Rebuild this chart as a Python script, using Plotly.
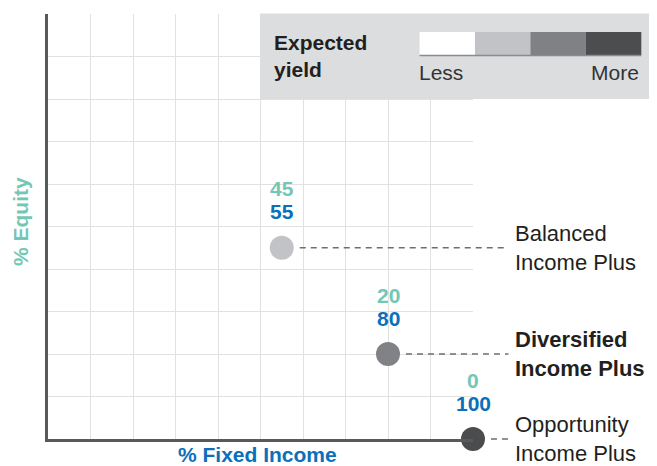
import plotly.graph_objects as go

# Portfolio data
names = ["Balanced<br>Income Plus", "<b>Diversified<br>Income Plus</b>", "Opportunity<br>Income Plus"]
fixed_income = [55, 80, 100]
equity = [45, 20, 0]
yield_colors = ["#c2c3c6", "#818285", "#4b4c4e"]

legend_colors = ["#ffffff", "#c2c3c6", "#808184", "#4c4d4f"]
legend_ends = ["Less", "More"]

TEAL = "#72c8b4"
BLUE = "#0b70b9"
FONT = "Liberation Sans, Arial, sans-serif"

# page body has an 8px margin, so the figure is drawn 8px smaller and coords shifted
OFF = 8
W, H = 657 - OFF, 466 - OFF
L, R, T, B = 48 - OFF, 473.5 - OFF, 14 - OFF, 439 - OFF


def px_x(p):
    return (p - OFF - L) / (R - L)


def px_y(p):
    return (B - (p - OFF)) / (B - T)


fig = go.Figure()

fig.add_trace(go.Scatter(
    x=fixed_income,
    y=equity,
    mode="markers",
    marker=dict(size=24, color=yield_colors, line=dict(width=0)),
    cliponaxis=False,
    hoverinfo="skip",
    showlegend=False,
))

shapes = []
annotations = []

# legend panel
shapes.append(dict(type="rect", xref="paper", yref="paper",
                   x0=px_x(260.5), x1=px_x(660), y0=px_y(99), y1=px_y(13.5),
                   fillcolor="#dcdddf", line=dict(width=0), layer="above"))
seg_w = (642 - 420) / len(legend_colors)
for i, c in enumerate(legend_colors):
    shapes.append(dict(type="rect", xref="paper", yref="paper",
                       x0=px_x(420 + i * seg_w), x1=px_x(420 + (i + 1) * seg_w),
                       y0=px_y(55), y1=px_y(32),
                       fillcolor=c, line=dict(width=0), layer="above"))
shapes.append(dict(type="line", xref="paper", yref="paper",
                   x0=px_x(420), x1=px_x(642), y0=px_y(55.5), y1=px_y(55.5),
                   line=dict(color="#8a8b8e", width=1.5), layer="above"))

annotations.append(dict(xref="paper", yref="paper", x=px_x(272), y=px_y(56),
                        text="<b>Expected<br>yield</b>", showarrow=False,
                        xanchor="left", yanchor="middle", align="left",
                        font=dict(size=21, color="#231f20", family=FONT)))
annotations.append(dict(xref="paper", yref="paper", x=px_x(417), y=px_y(72),
                        text=legend_ends[0], showarrow=False, xanchor="left", yanchor="middle",
                        font=dict(size=21, color="#333333", family=FONT)))
annotations.append(dict(xref="paper", yref="paper", x=px_x(642), y=px_y(72),
                        text=legend_ends[1], showarrow=False, xanchor="right", yanchor="middle",
                        font=dict(size=21, color="#333333", family=FONT)))

# value labels, leader lines and names
for fi, eq, name in zip(fixed_income, equity, names):
    annotations.append(dict(x=fi, y=eq, xref="x", yref="y", text=f"<b>{eq}</b>",
                            showarrow=False, yshift=59, yanchor="middle",
                            font=dict(size=21, color=TEAL, family=FONT)))
    annotations.append(dict(x=fi, y=eq, xref="x", yref="y", text=f"<b>{fi}</b>",
                            showarrow=False, yshift=36, yanchor="middle",
                            font=dict(size=21, color=BLUE, family=FONT)))
    shapes.append(dict(type="line", xref="paper", yref="paper",
                       x0=fi / 100 + 18 / (R - L), x1=px_x(509),
                       y0=eq / 100, y1=eq / 100,
                       line=dict(color="#6d6e71", width=1.5, dash="6px,5px"), layer="above"))
    annotations.append(dict(xref="paper", yref="paper", x=px_x(514), y=eq / 100,
                            text=name, showarrow=False, xanchor="left", yanchor="middle",
                            align="left", font=dict(size=22, color="#231f20", family=FONT)))

# axis titles
annotations.append(dict(xref="paper", yref="paper", x=px_x(258), y=px_y(454),
                        text="<b>% Fixed Income</b>", showarrow=False,
                        xanchor="center", yanchor="middle",
                        font=dict(size=21, color=BLUE, family=FONT)))
annotations.append(dict(xref="paper", yref="paper", x=px_x(20), y=px_y(222),
                        text="<b>% Equity</b>", showarrow=False, textangle=-90,
                        xanchor="center", yanchor="middle",
                        font=dict(size=21, color=TEAL, family=FONT)))

fig.update_layout(
    width=W, height=H,
    margin=dict(l=L, r=W - R, t=T, b=H - B),
    paper_bgcolor="white", plot_bgcolor="white",
    shapes=shapes, annotations=annotations,
    showlegend=False,
)
fig.update_xaxes(range=[0, 100], dtick=10, showticklabels=False, ticks="",
                 showgrid=True, gridcolor="#e1e1e1", gridwidth=1, zeroline=False,
                 showline=True, linecolor="#58595b", linewidth=2.5)
fig.update_yaxes(range=[0, 100], dtick=10, showticklabels=False, ticks="",
                 showgrid=True, gridcolor="#e1e1e1", gridwidth=1, zeroline=False,
                 showline=True, linecolor="#58595b", linewidth=2.5)

fig.write_html("out.html")
